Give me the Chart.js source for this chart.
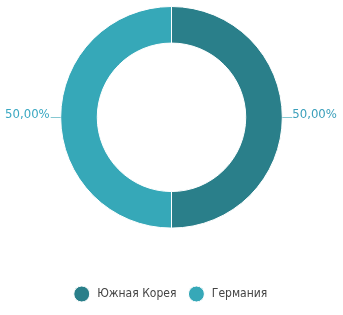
<!DOCTYPE html>
<html>
<head>
<meta charset="utf-8">
<script src="https://cdn.jsdelivr.net/npm/chart.js@4"></script>
<style>
  html, body { margin: 0; padding: 0; background: #fff; }
  #wrap { width: 343px; height: 315px; }
</style>
</head>
<body>
<div id="wrap"><canvas id="chart1"></canvas></div>
<script>
const countries = ["Южная Корея", "Германия"];
const shares = [50, 50];
const colors = ["#2a7f8a", "#36a8b8"];
const labelColors = ["#3a9fbb", "#3aa8c2"];

const FONT = "'DejaVu Sans Condensed', sans-serif";

// draws "50,00%" outside each slice with a short leader line
const outsideLabels = {
  id: "outsideLabels",
  afterDatasetsDraw(chart) {
    const ctx = chart.ctx;
    const meta = chart.getDatasetMeta(0);
    ctx.save();
    ctx.font = "13px " + FONT;
    ctx.textBaseline = "alphabetic";
    meta.data.forEach((arc, i) => {
      const p = arc.getProps(["x", "y", "startAngle", "endAngle", "outerRadius"], true);
      const mid = (p.startAngle + p.endAngle) / 2;
      const right = Math.cos(mid) >= 0;
      const ex = p.x + Math.cos(mid) * p.outerRadius;
      const ey = Math.round(p.y + Math.sin(mid) * p.outerRadius) + 0.5;
      const lx = ex + (right ? 10 : -10);
      ctx.strokeStyle = "#86c8d2";
      ctx.lineWidth = 1;
      ctx.beginPath();
      ctx.moveTo(ex, ey);
      ctx.lineTo(lx, ey);
      ctx.stroke();
      ctx.fillStyle = labelColors[i];
      ctx.textAlign = right ? "left" : "right";
      const txt = shares[i].toFixed(2).replace(".", ",") + "%";
      ctx.fillText(txt, lx + (right ? 0 : -1), ey);
    });
    ctx.restore();
  }
};

const data = {
  labels: countries,
  datasets: [{
    data: shares,
    backgroundColor: colors,
    borderColor: "#ffffff",
    borderWidth: 1,
    hoverOffset: 0
  }]
};

const config = {
  type: "doughnut",
  data,
  options: {
    responsive: true,
    maintainAspectRatio: false,
    animation: false,
    cutout: "67%",
    rotation: 0,
    layout: { padding: { top: 6, bottom: 5, left: 0, right: 0 } },
    plugins: {
      tooltip: { enabled: false },
      legend: {
        position: "bottom",
        title: { display: true, text: "", padding: { top: 31, bottom: 0 } },
        labels: {
          usePointStyle: true,
          pointStyle: "circle",
          boxWidth: 12,
          boxHeight: 11.3,
          padding: 14,
          color: "#444444",
          font: { family: FONT, size: 12 },
          generateLabels(chart) {
            const items = Chart.overrides.doughnut.plugins.legend.labels.generateLabels(chart);
            // a little extra room between the dot and the name
            items.forEach(it => { it.text = " " + it.text; });
            return items;
          }
        }
      }
    }
  },
  plugins: [outsideLabels]
};

const myChart = new Chart(document.getElementById("chart1"), config);
</script>
</body>
</html>
